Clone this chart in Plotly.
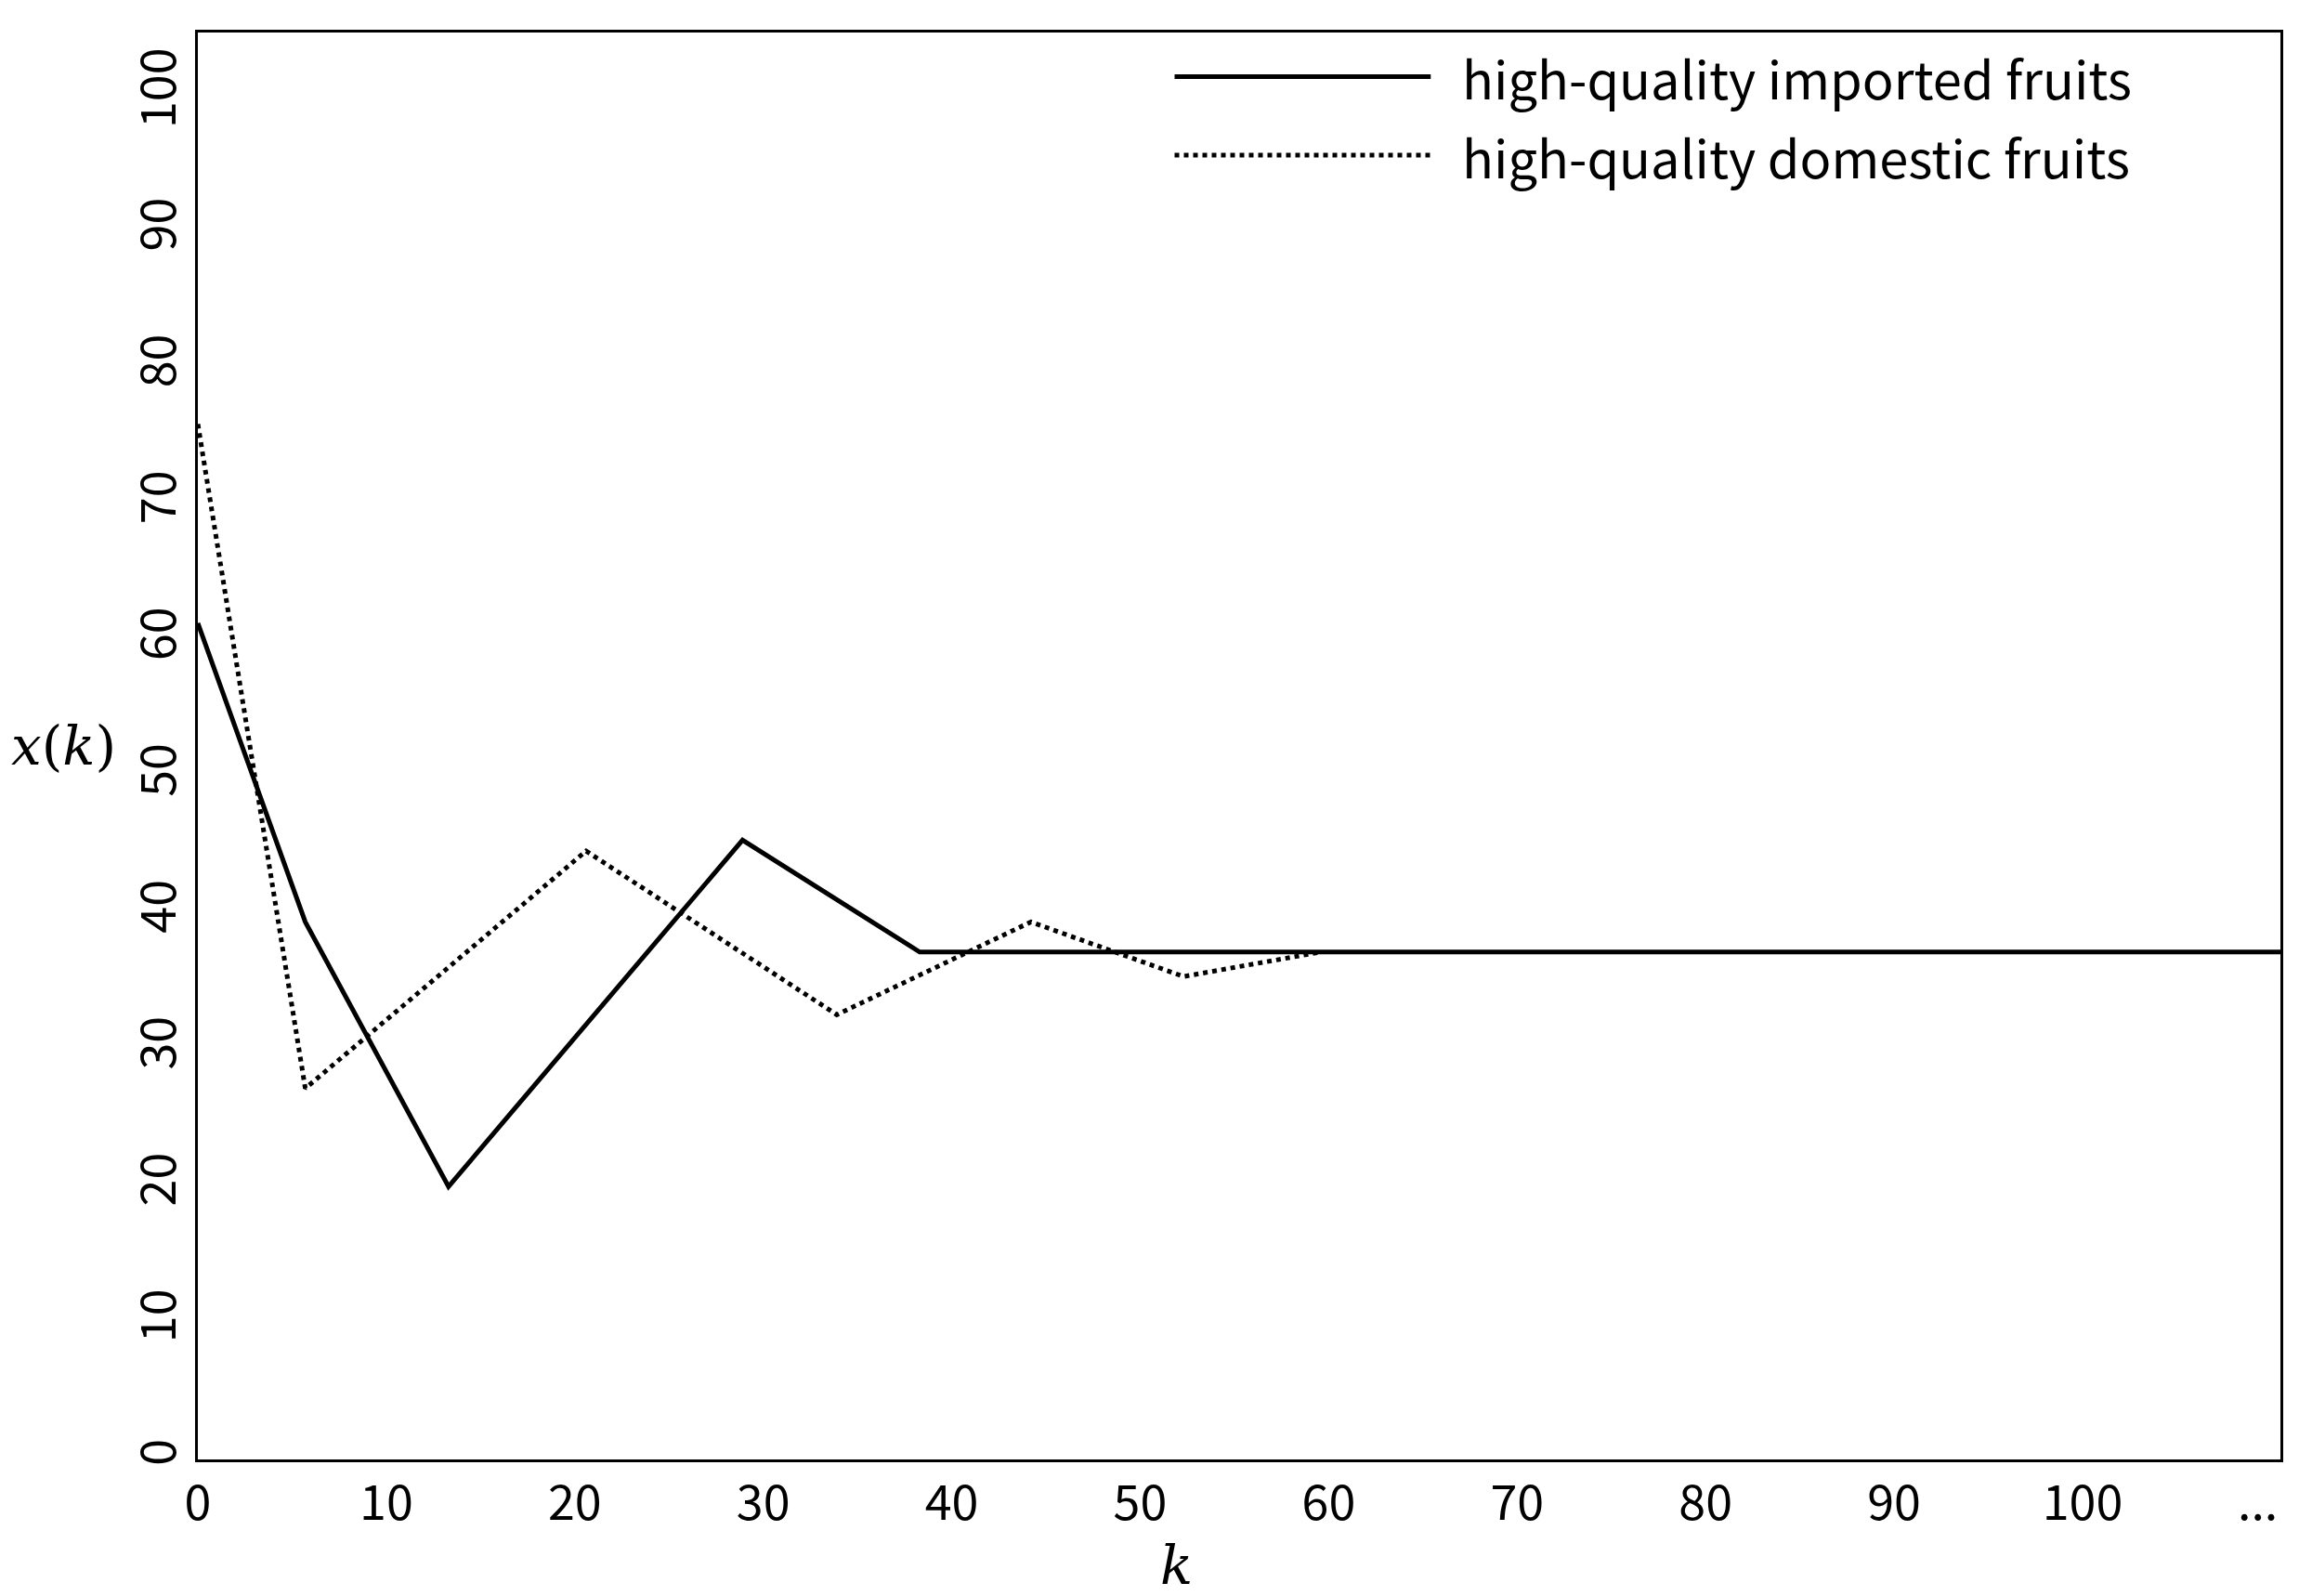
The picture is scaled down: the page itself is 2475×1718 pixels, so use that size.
import plotly.graph_objects as go

# values
k_imported = [0, 5.7, 13.3, 28.9, 38.3, 110.5]
x_imported = [61.3, 39.4, 20.0, 45.4, 37.2, 37.2]

k_domestic = [0, 5.7, 20.6, 33.9, 44.2, 52.3, 59.6]
x_domestic = [75.9, 27.2, 44.6, 32.6, 39.4, 35.4, 37.2]

x_ticks = [0, 10, 20, 30, 40, 50, 60, 70, 80, 90, 100, 109.3]
x_tick_text = ["0", "10", "20", "30", "40", "50", "60", "70", "80", "90", "100", "..."]
y_ticks = list(range(0, 101, 10))

names = ["high-quality imported fruits", "high-quality domestic fruits"]

font = "Noto Sans CJK SC, DejaVu Sans"

fig = go.Figure()
fig.add_trace(go.Scatter(x=k_imported, y=x_imported, mode="lines", name=names[0],
                         line=dict(color="black", width=5)))
fig.add_trace(go.Scatter(x=k_domestic, y=x_domestic, mode="lines", name=names[1],
                         line=dict(color="black", width=5, dash="dot")))

axis_common = dict(showline=True, linecolor="black", linewidth=3, mirror=True,
                   showgrid=False, zeroline=False, ticks="",
                   tickfont=dict(family=font, size=52, color="black"))

fig.update_layout(
    width=2475, height=1718,
    plot_bgcolor="white", paper_bgcolor="white",
    margin=dict(l=205, r=28, t=27, b=155),
    xaxis=dict(range=[0, 110.5], tickvals=x_ticks, ticktext=x_tick_text, **axis_common),
    yaxis=dict(range=[0, 104.6], tickvals=y_ticks, tickangle=-90, **axis_common),
    showlegend=False,
)

# legend drawn by hand so the line samples are long like the reference
for i, (nm, dash) in enumerate(zip(names, ["solid", "dot"])):
    yy = 0.969 - i * 0.055
    fig.add_shape(type="line", xref="paper", yref="paper", x0=0.469, x1=0.592,
                  y0=yy, y1=yy, line=dict(color="black", width=5, dash=dash))
    fig.add_annotation(text=nm, xref="paper", yref="paper", x=0.606, y=yy,
                       xanchor="left", yanchor="middle", showarrow=False,
                       font=dict(family=font, size=56, color="black"))

fig.add_annotation(text="<i>k</i>", xref="paper", yref="paper", x=0.47, y=0,
                   yshift=-150, showarrow=False, yanchor="bottom",
                   font=dict(family="DejaVu Serif", size=58, color="black"))
fig.add_annotation(text="<i>x</i>(<i>k</i>)", xref="paper", yref="paper", x=0, y=0.5,
                   xshift=-203, showarrow=False, xanchor="left",
                   font=dict(family="DejaVu Serif", size=58, color="black"))

fig.write_html("out.html")
